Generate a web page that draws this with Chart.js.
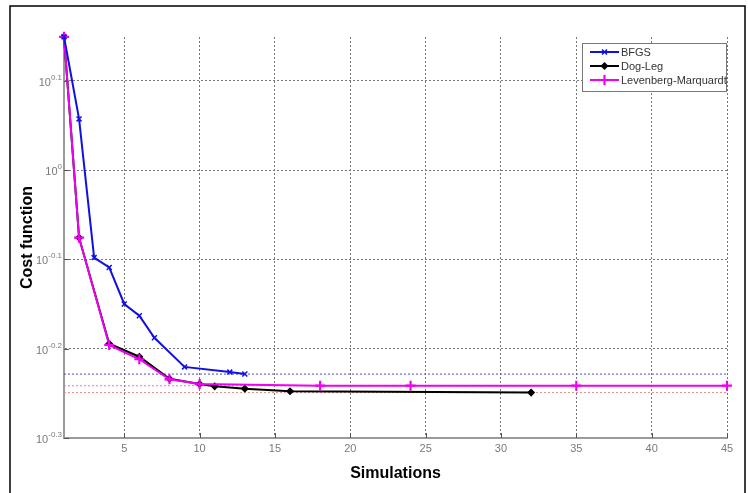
<!DOCTYPE html>
<html>
<head>
<meta charset="utf-8">
<script src="https://cdn.jsdelivr.net/npm/chart.js@4/dist/chart.umd.min.js"></script>
<style>
  body { margin: 0; background: #fff; }
  #wrap { width: 748px; height: 493px; }
</style>
</head>
<body>
<div id="wrap"><canvas id="costChart" width="748" height="493"></canvas></div>
<script>
// Values
const bfgsX = [1, 2, 3, 4, 5, 6, 7, 9, 12, 13];
const bfgsCost = [1.41, 1.141, 0.798, 0.778, 0.708, 0.687, 0.649, 0.602, 0.594, 0.591];

const doglegX = [1, 2, 4, 6, 8, 10, 11, 13, 16, 32];
const doglegCost = [1.41, 0.840, 0.639, 0.618, 0.584, 0.576, 0.5726, 0.5692, 0.5653, 0.5634];

const lmX = [1, 2, 4, 6, 8, 10, 18, 24, 35, 45];
const lmCost = [1.41, 0.840, 0.637, 0.614, 0.583, 0.576, 0.5735, 0.5735, 0.5735, 0.5735];

const xTicks = [5, 10, 15, 20, 25, 30, 35, 40, 45];
const yTickExponents = [-0.3, -0.2, -0.1, 0, 0.1];
const yTickLabels = ['-0.3', '-0.2', '-0.1', '0', '0.1'];

const xMin = 1;
const xMax = 45;
const yMin = Math.pow(10, -0.3);
const yMax = Math.pow(10, 0.149);

const FONT = "'Liberation Sans', Arial, sans-serif";
Chart.defaults.font.family = FONT;

function toPoints(xs, ys) {
  return xs.map((x, i) => ({ x: x, y: ys[i] }));
}

function finalLine(ys) {
  const v = ys[ys.length - 1];
  return [{ x: xMin, y: v }, { x: xMax, y: v }];
}

// Series drawn with markers (these appear in the legend)
const series = [
  { label: 'BFGS', color: '#1010e0', style: 'crossRot', radius: 3.5, pw: 1.5, order: 1, xs: bfgsX, ys: bfgsCost },
  { label: 'Dog-Leg', color: '#000000', style: 'rectRot', radius: 3, pw: 1.5, order: 3, xs: doglegX, ys: doglegCost },
  { label: 'Levenberg-Marquardt', color: '#f000f0', style: 'cross', radius: 5, pw: 2.2, order: 2, xs: lmX, ys: lmCost }
];

const datasets = series.map(s => ({
  label: s.label,
  data: toPoints(s.xs, s.ys),
  borderColor: s.color,
  backgroundColor: s.color,
  borderWidth: 2,
  pointStyle: s.style,
  pointRadius: s.radius,
  pointBorderWidth: s.pw,
  pointBorderColor: s.color,
  pointBackgroundColor: s.color,
  tension: 0,
  order: s.order,
  clip: false
}));

// Dotted lines at the final value of each method
const refColors = ['#4a4ad0', '#e070e0', '#e08a80'];
[bfgsCost, lmCost, doglegCost].forEach((ys, i) => {
  datasets.push({
    label: 'ref' + i,
    data: finalLine(ys),
    borderColor: refColors[i],
    borderWidth: 1,
    borderDash: [2, 2],
    pointRadius: 0,
    order: 10 + i
  });
});

// Draws superscript y tick labels, inward tick marks, legend and figure frame
const decorPlugin = {
  id: 'decor',
  afterDraw(chart) {
    const ctx = chart.ctx;
    const area = chart.chartArea;
    const xs = chart.scales.x;
    const ys = chart.scales.y;

    ctx.save();

    // inward tick marks
    ctx.strokeStyle = '#555';
    ctx.lineWidth = 1;
    ctx.setLineDash([]);
    xTicks.forEach(v => {
      const px = Math.round(xs.getPixelForValue(v)) + 0.5;
      ctx.beginPath();
      ctx.moveTo(px, area.bottom);
      ctx.lineTo(px, area.bottom - 5);
      ctx.stroke();
    });
    yTickExponents.forEach(e => {
      const py = Math.round(ys.getPixelForValue(Math.pow(10, e))) + 0.5;
      ctx.beginPath();
      ctx.moveTo(area.left, py);
      ctx.lineTo(area.left + 5, py);
      ctx.stroke();
    });

    // y tick labels: 10 with exponent
    ctx.fillStyle = '#7a7a7a';
    ctx.textBaseline = 'alphabetic';
    yTickExponents.forEach((e, i) => {
      const py = ys.getPixelForValue(Math.pow(10, e));
      ctx.font = '11px ' + FONT;
      const baseW = ctx.measureText('10').width;
      ctx.font = '8px ' + FONT;
      const expW = ctx.measureText(yTickLabels[i]).width;
      const right = area.left - 2;
      const baseX = right - expW - baseW;
      ctx.font = '11px ' + FONT;
      ctx.textAlign = 'left';
      ctx.fillText('10', baseX, py + 5);
      ctx.font = '8px ' + FONT;
      ctx.fillText(yTickLabels[i], baseX + baseW, py - 1);
    });

    // legend box
    const lx = 582, ly = 43, lw = 144, lh = 48;
    ctx.fillStyle = '#fff';
    ctx.fillRect(lx, ly, lw, lh);
    ctx.strokeStyle = '#777';
    ctx.lineWidth = 1;
    ctx.strokeRect(lx + 0.5, ly + 0.5, lw, lh);
    series.forEach((s, i) => {
      const y = ly + 9 + i * 14;
      ctx.strokeStyle = s.color;
      ctx.fillStyle = s.color;
      ctx.lineWidth = 2;
      ctx.beginPath();
      ctx.moveTo(590, y);
      ctx.lineTo(619, y);
      ctx.stroke();
      ctx.lineWidth = s.pw;
      if (Chart.helpers && Chart.helpers.drawPoint) {
        Chart.helpers.drawPoint(ctx, { pointStyle: s.style, radius: s.radius, rotation: 0, borderWidth: s.pw }, 604.5, y);
      }
      ctx.fillStyle = '#333';
      ctx.font = '11px ' + FONT;
      ctx.textAlign = 'left';
      ctx.textBaseline = 'middle';
      ctx.fillText(s.label, 621, y + 1);
    });

    // figure frame
    ctx.strokeStyle = '#000';
    ctx.lineWidth = 1.5;
    ctx.beginPath();
    ctx.moveTo(10, 494);
    ctx.lineTo(10, 6);
    ctx.lineTo(745, 6);
    ctx.lineTo(745, 494);
    ctx.stroke();

    ctx.restore();
  }
};

new Chart(document.getElementById('costChart'), {
  type: 'line',
  data: { datasets: datasets },
  options: {
    responsive: false,
    animation: false,
    layout: { padding: { top: 37, right: 21, bottom: 0, left: 12 } },
    scales: {
      x: {
        type: 'linear',
        min: xMin,
        max: xMax,
        afterBuildTicks: scale => { scale.ticks = xTicks.map(v => ({ value: v })); },
        grid: { color: '#777', drawTicks: false, lineWidth: 1 },
        border: { color: '#9a9a9a', width: 2, dash: [2, 2] },
        ticks: { color: '#7a7a7a', font: { size: 11 }, padding: 4, maxRotation: 0 },
        title: {
          display: true,
          text: 'Simulations',
          color: '#000',
          font: { size: 16, weight: 'bold' },
          padding: { top: 5, bottom: 9.6 }
        }
      },
      y: {
        type: 'logarithmic',
        min: yMin,
        max: yMax,
        afterBuildTicks: scale => { scale.ticks = yTickExponents.map(e => ({ value: Math.pow(10, e) })); },
        grid: { color: '#777', drawTicks: false, lineWidth: 1 },
        border: { color: '#9a9a9a', width: 2, dash: [2, 2] },
        ticks: { display: false },
        title: {
          display: true,
          text: 'Cost function',
          color: '#000',
          font: { size: 16, weight: 'bold' },
          padding: { top: 6, bottom: 26.8 }
        }
      }
    },
    plugins: {
      legend: { display: false },
      tooltip: { enabled: false }
    }
  },
  plugins: [decorPlugin]
});
</script>
</body>
</html>
